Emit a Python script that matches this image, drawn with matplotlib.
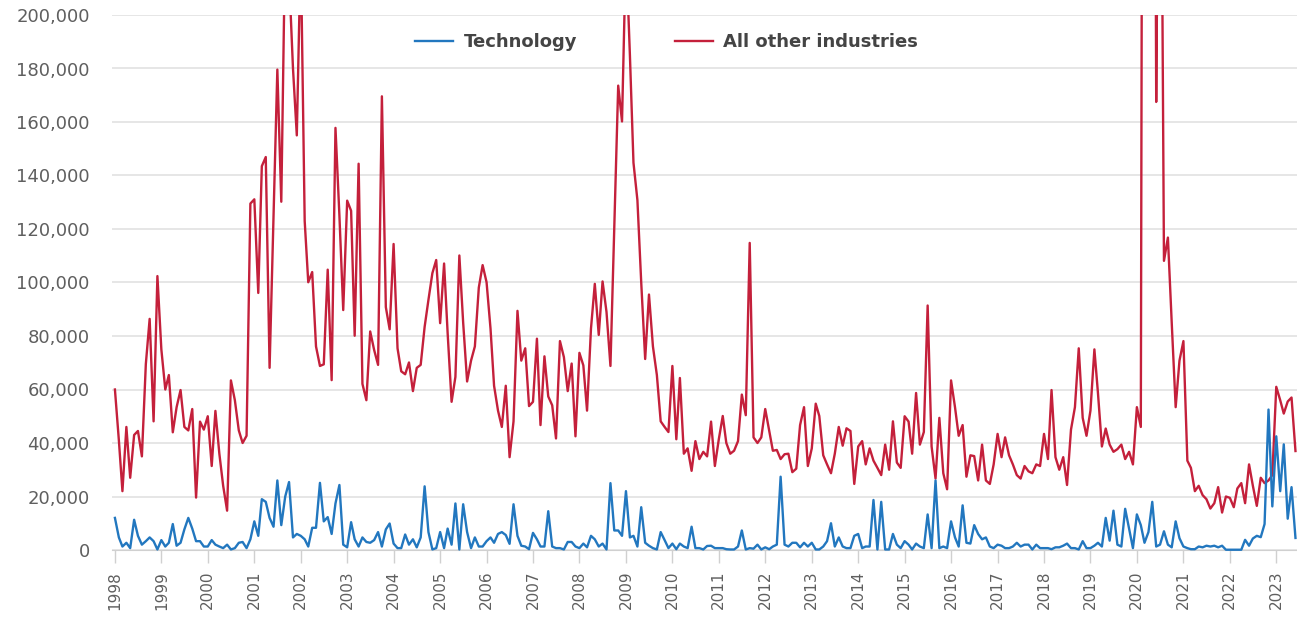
import datetime

import matplotlib
matplotlib.use("Agg")
import matplotlib.pyplot as plt
import matplotlib.ticker as mticker
import pandas as pd


# monthly values, Jan 1998 - Jun 2023 (one row per year)
technology = [
    12000, 4700, 1300, 2700, 700, 11300, 5300, 2000, 3300, 4700, 3300, 200,
    3700, 1300, 2700, 9700, 1600, 2700, 7700, 12000, 8000, 3300, 3300, 1300,
    1300, 3700, 2000, 1300, 700, 2000, 200, 700, 2700, 3000, 700, 4000,
    10700, 5300, 19000, 18000, 12000, 8700, 26000, 9300, 20000, 25400, 4700, 6000,
    5300, 4000, 1300, 8300, 8300, 25100, 10700, 12300, 6000, 17400, 24300, 2000,
    1000, 10400, 4000, 1300, 4700, 3000, 2700, 3700, 6700, 1300, 7700, 9900,
    2400, 700, 700, 5800, 2000, 4000, 1000, 4700, 23800, 6700, 200, 700,
    6700, 700, 8000, 2000, 17400, 200, 17100, 6700, 700, 4700, 1300, 1300,
    3300, 4700, 2700, 6000, 6700, 5600, 2300, 17100, 5300, 1600, 1300, 300,
    6400, 4000, 1300, 1300, 14500, 1300, 700, 700, 200, 3000, 3000, 1300,
    700, 2400, 1000, 5300, 4000, 1300, 2400, 200, 25000, 7300, 7300, 5300,
    22000, 4700, 5300, 1300, 16000, 2700, 1600, 700, 200, 6700, 3700, 700,
    2400, 300, 2400, 1300, 700, 8700, 700, 700, 200, 1500, 1600, 700,
    700, 700, 300, 200, 200, 1300, 7300, 200, 700, 500, 2000, 200,
    1000, 300, 1300, 2000, 27400, 2000, 1300, 2700, 2700, 1000, 2700, 1300,
    2700, 200, 200, 1300, 3300, 10000, 1300, 4700, 1300, 700, 700, 5300,
    6000, 700, 1300, 1300, 18700, 200, 18000, 200, 200, 6000, 2000, 700,
    3300, 2000, 200, 2400, 1300, 700, 13300, 700, 26000, 700, 1300, 700,
    10700, 4700, 1300, 16700, 2700, 2400, 9300, 6000, 4000, 4700, 1300, 700,
    2000, 1600, 700, 700, 1300, 2700, 1300, 2000, 2000, 200, 2000, 700,
    700, 700, 300, 1000, 1000, 1600, 2400, 700, 700, 200, 3300, 700,
    700, 1600, 2700, 1300, 12000, 3500, 14700, 2000, 1300, 15400, 8000, 700,
    13300, 9300, 2700, 6700, 18000, 1300, 2000, 7000, 2000, 1000, 10700, 4400,
    1300, 700, 300, 300, 1300, 1000, 1600, 1300, 1600, 1000, 1600, 100,
    100, 100, 100, 100, 3800, 1600, 4300, 5300, 4800, 9700, 52500, 16300,
    42500, 22000, 39500, 11700, 23500, 4500,
]

other_industries = [
    60000, 41000, 22000, 46000, 27000, 43000, 44500, 35000, 69500, 86400, 48100, 102400,
    75000, 60000, 65400, 44000, 53400, 59800, 46000, 44700, 52700, 19600, 48000, 45000,
    50000, 31400, 52000, 36000, 24000, 14700, 63400, 56000, 44700, 40000, 42700, 129500,
    131100, 96100, 143500, 146900, 68100, 125000, 179600, 130200, 230000, 215000, 180000, 155000,
    225000, 123000, 100100, 103900, 76100, 68800, 69400, 104800, 63500, 157800, 125000, 89700,
    130600, 126800, 80100, 144400, 62100, 56000, 81700, 74800, 69200, 169600, 90800, 82500,
    114400, 75400, 66800, 65700, 70100, 59400, 68100, 69200, 83400, 93500, 103500, 108400,
    84800, 107100, 81000, 55400, 64700, 110100, 85000, 63000, 70800, 76100, 98100, 106500,
    100100, 82800, 61400, 52100, 46000, 61400, 34700, 48100, 89400, 70800, 75400, 53800,
    55400, 79000, 46700, 72400, 57400, 54100, 41700, 78100, 72100, 59400, 69700, 42500,
    73700, 69000, 52100, 82800, 99500, 80400, 100400, 89000, 68800, 120000, 173600, 160200,
    225000, 185000, 144800, 130800, 100000, 71400, 95500, 76100, 65400, 48100, 46000, 44100,
    68800, 41400, 64300, 36000, 38000, 29600, 40700, 34000, 36700, 35000, 48000, 31400,
    41400, 50100, 40000, 36000, 37100, 40700, 58100, 50400, 114800, 42100, 40000, 42100,
    52700, 44700, 37100, 37400, 34000, 35800, 36000, 29100, 30400, 46700, 53400, 31400,
    38000, 54700, 50100, 35400, 32000, 28700, 36000, 46000, 39000, 45500, 44500, 24700,
    38700, 40700, 32000, 38000, 33400, 30700, 28000, 39400, 30000, 48100, 32700, 30700,
    50000, 48000, 36000, 58700, 39400, 44100, 91400, 38700, 26700, 49400, 28700, 22700,
    63400, 53400, 42700, 46700, 27400, 35400, 35100, 26000, 39400, 26000, 24700, 32000,
    43400, 34700, 42100, 35400, 32000, 28000, 26700, 31400, 29400, 28700, 32000, 31400,
    43400, 34000, 59800, 34700, 30000, 34700, 24300, 45000, 53400, 75400, 49400, 42700,
    52100, 75000, 58700, 38700, 45400, 39400, 36700, 37700, 39400, 34000, 36700, 32000,
    53400, 46000, 700000, 900000, 600000, 167500, 350000, 108100, 116800, 85000, 53400, 70800,
    78100, 33400, 30700, 22000, 24000, 20500, 19000, 15500, 17500, 23500, 14000, 20000,
    19500, 16000, 23000, 25000, 17500, 32000, 24000, 16500, 27000, 25000, 26000, 28000,
    61000, 56000, 51000, 55500, 57000, 37000,
]

years = list(range(1998, 2024))

BLUE = "#2277bf"
RED = "#c4203b"
GRID = "#e2e2e2"
TEXT = "#5f5f5f"


def plot_layoffs():
    dates = pd.date_range("1998-01-01", periods=len(technology), freq="MS")

    fig = plt.figure(figsize=(12.97, 6.17), dpi=100)
    ax = fig.add_axes([112 / 1297, 67 / 617, 1185 / 1297, 535 / 617])

    ax.plot(dates, technology, color=BLUE, lw=1.7, label="Technology", clip_on=False, zorder=3)
    ax.plot(dates, other_industries, color=RED, lw=1.7, label="All other industries", zorder=2)

    ax.set_ylim(0, 200000)
    ax.set_xlim(datetime.date(1997, 12, 9), datetime.date(2023, 6, 13))

    ax.set_yticks(range(0, 200001, 20000))
    ax.yaxis.set_major_formatter(mticker.FuncFormatter(lambda v, p: "{:,.0f}".format(v)))
    ax.set_xticks([datetime.date(y, 1, 1) for y in years])
    ax.set_xticklabels([str(y) for y in years], rotation=90)

    ax.grid(axis="y", color=GRID, lw=1.2)
    ax.set_axisbelow(True)
    for side in ["top", "right", "left"]:
        ax.spines[side].set_visible(False)
    ax.spines["bottom"].set_color("#d0d0d0")

    ax.tick_params(axis="y", length=0, pad=16, labelsize=13, labelcolor=TEXT)
    ax.tick_params(axis="x", length=9, width=1, color="#d0d0d0", pad=6, labelsize=11, labelcolor=TEXT)

    leg = fig.legend(loc="center", bbox_to_anchor=(0.514, 1 - 42 / 617), ncol=2, frameon=False,
                     handlelength=2.1, handletextpad=0.6, columnspacing=5.4,
                     prop={"weight": "bold", "size": 13})
    for txt in leg.get_texts():
        txt.set_color("#444444")

    fig.savefig("out.png", dpi=100)


def main():
    plot_layoffs()


if __name__ == "__main__":
    main()
